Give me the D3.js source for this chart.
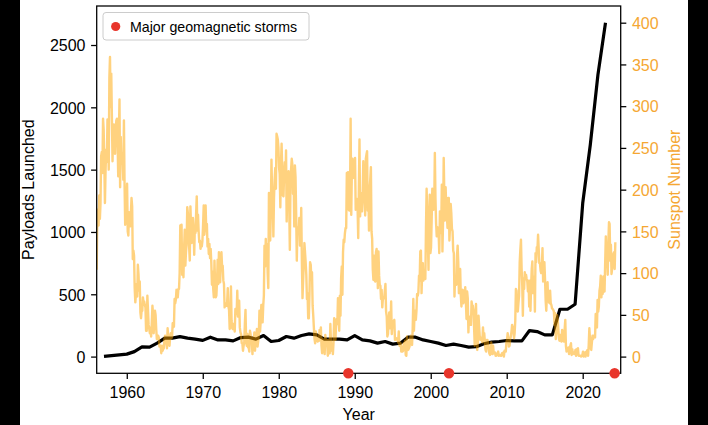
<!DOCTYPE html>
<html><head><meta charset="utf-8">
<script src="https://cdn.jsdelivr.net/npm/d3@7"></script>
<style>body{margin:0;background:#000}svg{display:block}</style>
</head><body>
<svg id="c" width="708" height="425"></svg>
<script>
// ---------- DATA ----------
const payloadStartYear = 1957;
const payloads = [2,8,14,20,40,78,76,108,148,148,160,148,140,130,156,134,134,126,153,156,140,169,121,129,161,148,169,182,174,140,140,140,134,169,134,126,108,121,100,108,156,156,134,121,108,89,100,89,76,80,103,116,121,129,126,126,209,201,174,174,380,380,420,1230,1700,2259,2679];

const sunspotStartYear = 1956; // monthly values from January 1956
const sunspots = [
104,176,168,157,193,165,183,240,245,220,285,272,
234,184,223,248,233,284,265,224,334,359,299,339,
287,234,270,278,248,243,271,283,285,257,216,266,
308,203,263,231,244,239,212,283,206,158,176,177,
207,150,145,173,169,156,172,190,180,117,127,121,
82,65,75,87,72,110,99,79,90,53,46,56,
55,71,65,66,62,59,31,31,73,56,38,33,
28,35,24,41,61,51,28,47,55,50,33,21,
22,25,23,12,13,13,4,13,7,9,10,21,
25,20,17,10,34,23,17,13,24,28,22,24,
40,35,36,69,64,68,80,72,71,81,81,100,
157,133,158,98,122,95,130,152,109,125,134,179,
172,158,131,115,180,156,136,155,166,153,122,155,
148,171,192,151,170,150,137,139,129,136,132,139,
158,181,146,155,181,151,159,132,141,123,135,118,
129,112,86,102,81,71,115,87,71,73,89,116,
87,125,113,89,114,125,108,109,91,87,59,64,
61,61,65,82,60,56,33,36,84,43,34,33,
39,37,30,57,56,51,79,48,57,67,35,29,
27,16,16,7,13,16,40,56,20,13,27,11,
11,6,31,27,18,17,3,23,19,29,7,22,
23,33,12,18,26,55,30,43,62,62,41,61,
73,133,108,141,117,135,100,82,196,177,139,174,
236,195,195,144,190,212,226,201,267,264,260,250,
226,219,179,232,255,223,193,192,219,233,209,247,
162,200,192,222,181,128,204,225,237,230,195,213,
156,229,215,171,115,155,149,151,166,133,137,178,
115,70,91,111,136,125,113,98,69,76,46,46,
75,113,110,92,101,61,49,34,21,16,30,25,
19,18,20,19,32,28,35,13,4,21,19,20,
3,26,17,20,15,1,20,8,4,39,17,7,
12,3,17,46,38,20,38,45,39,70,46,31,
73,49,94,108,74,125,140,137,148,154,154,220,
216,221,176,175,186,285,170,226,237,214,232,222,
238,176,189,189,178,142,201,260,168,196,177,174,
191,234,198,195,169,237,242,246,175,201,151,201,
212,227,150,141,104,92,121,91,90,125,129,116,
82,126,97,86,85,69,80,59,70,71,70,79,
87,54,48,24,27,42,53,34,39,66,27,39,
35,43,44,20,21,22,21,20,17,30,13,14,
16,6,12,6,7,16,11,19,2,1,24,18,
8,10,12,21,25,17,14,33,69,31,52,55,
44,55,75,73,77,97,91,126,127,76,101,112,
91,97,100,93,155,201,166,137,104,170,194,124,
131,164,201,182,176,181,244,189,159,144,155,151,
147,124,174,165,148,206,126,163,238,193,163,203,
179,169,154,190,190,139,156,183,172,153,150,127,
124,72,95,94,86,121,133,113,76,102,105,73,
60,74,80,64,67,70,83,66,45,78,70,29,
48,45,38,38,66,61,61,56,34,13,28,63,
25,8,17,49,36,23,20,21,23,17,35,22,
28,18,8,6,20,20,17,10,4,2,3,17,
5,3,13,4,5,5,1,1,2,4,6,1,
2,2,1,1,4,4,5,0,7,7,6,17,
20,28,23,12,13,21,24,30,38,35,33,22,
28,43,81,79,60,54,64,73,113,128,140,106,
86,49,94,81,101,95,98,93,90,78,91,60,
91,55,84,105,114,76,83,96,54,124,113,131,
128,146,129,112,112,103,100,107,130,90,104,113,
93,67,55,75,89,66,66,64,79,64,62,58,
57,56,54,38,52,21,32,50,45,33,21,19,
26,26,18,32,19,19,18,33,44,13,6,8,
7,11,3,9,13,16,2,9,3,5,5,3,
8,1,9,9,10,1,1,1,1,0,1,2,
6,0,2,5,0,6,6,8,1,14,34,22,
10,8,17,25,21,25,23,23,51,37,35,68,
54,60,79,84,97,71,91,75,96,96,78,113,
144,111,123,98,137,161,159,115,134,99,105,114,
123,125,105,137
];

const stormYears = [1989.15, 2002.4, 2024.2];

const xTicks = [1960,1970,1980,1990,2000,2010,2020];
const leftTicks = [0,500,1000,1500,2000,2500];
const rightTicks = [0,50,100,150,200,250,300,350,400];

// ---------- LAYOUT ----------
const W = 708, H = 425;
const L = 96.7, R = 620.7, T = 6, B = 373.3;
const FONT = "'Liberation Sans', Arial, Helvetica, sans-serif";
const ORANGE = "#FFA500";
const ORANGE_TEXT = "#F5A733";
const RED = "#E8352B";

const svg = d3.select("#c");
svg.append("rect").attr("width", W).attr("height", H).attr("fill", "#000");
svg.append("rect").attr("x", 20).attr("width", 668).attr("height", H).attr("fill", "#fff");

const x = d3.scaleLinear().domain([1956.042, 2025]).range([L, R]);
const yL = d3.scaleLinear().domain([-134, 2813]).range([B, T]);
const yR = d3.scaleLinear().domain([-20, 420]).range([B, T]);

svg.append("clipPath").attr("id", "clip")
  .append("rect").attr("x", L).attr("y", T).attr("width", R - L).attr("height", B - T);

// payload line
const payData = payloads.map((v, i) => ({ year: payloadStartYear + i, v }));
svg.append("path")
  .datum(payData)
  .attr("clip-path", "url(#clip)")
  .attr("fill", "none")
  .attr("stroke", "#000")
  .attr("stroke-width", 3.2)
  .attr("stroke-linejoin", "round")
  .attr("stroke-linecap", "butt")
  .attr("d", d3.line().x(d => x(d.year)).y(d => yL(d.v)));

// sunspot line
const sunData = sunspots.map((v, i) => ({ t: sunspotStartYear + (i + 0.5) / 12, v }));
svg.append("path")
  .datum(sunData)
  .attr("clip-path", "url(#clip)")
  .attr("fill", "none")
  .attr("stroke", ORANGE)
  .attr("stroke-opacity", 0.5)
  .attr("stroke-width", 2.4)
  .attr("stroke-linejoin", "round")
  .attr("d", d3.line().x(d => x(d.t)).y(d => yR(d.v)));

// axes
function styleAxis(g, color) {
  g.select(".domain").remove();
  g.selectAll(".tick line").attr("stroke", "#000").attr("stroke-width", 1.28);
  g.selectAll(".tick text").attr("fill", color).style("font-family", FONT).style("font-size", "16px");
}

const gx = svg.append("g").attr("transform", `translate(0,${B})`)
  .call(d3.axisBottom(x).tickValues(xTicks).tickFormat(d3.format("d")).tickSize(5.6).tickSizeOuter(0).tickPadding(8));
styleAxis(gx, "#000");

const gl = svg.append("g").attr("transform", `translate(${L},0)`)
  .call(d3.axisLeft(yL).tickValues(leftTicks).tickFormat(d3.format("d")).tickSize(5.6).tickSizeOuter(0).tickPadding(5.6));
styleAxis(gl, "#000");
gl.selectAll(".tick text").attr("dy", "0.36em");

const gr = svg.append("g").attr("transform", `translate(${R},0)`)
  .call(d3.axisRight(yR).tickValues(rightTicks).tickFormat(d3.format("d")).tickSize(5.6).tickSizeOuter(0).tickPadding(5.6));
styleAxis(gr, ORANGE_TEXT);
gr.selectAll(".tick text").attr("dy", "0.36em");

// spines
svg.append("rect").attr("x", L).attr("y", T).attr("width", R - L).attr("height", B - T)
  .attr("fill", "none").attr("stroke", "#000").attr("stroke-width", 1.28);

// storms
svg.selectAll("circle.storm").data(stormYears).enter().append("circle")
  .attr("class", "storm")
  .attr("cx", d => x(d)).attr("cy", yR(-20))
  .attr("r", 5.2).attr("fill", RED);

// axis labels
svg.append("text").attr("x", (L + R) / 2).attr("y", 419.5).attr("text-anchor", "middle")
  .style("font-family", FONT).style("font-size", "16px").attr("fill", "#000").text("Year");
svg.append("text").attr("transform", `translate(33.5,${(T + B) / 2}) rotate(-90)`).attr("text-anchor", "middle")
  .style("font-family", FONT).style("font-size", "16px").attr("fill", "#000").text("Payloads Launched");
svg.append("text").attr("transform", `translate(680,${(T + B) / 2}) rotate(-90)`).attr("text-anchor", "middle")
  .style("font-family", FONT).style("font-size", "16px").attr("fill", ORANGE_TEXT).text("Sunspot Number");

// legend
const lg = svg.append("g");
lg.append("rect").attr("x", 103).attr("y", 12.5).attr("width", 206).attr("height", 27.5).attr("rx", 3)
  .attr("fill", "#fff").attr("fill-opacity", 0.8).attr("stroke", "#cccccc").attr("stroke-width", 1);
lg.append("circle").attr("cx", 115.7).attr("cy", 26.5).attr("r", 4.6).attr("fill", RED);
lg.append("text").attr("x", 130).attr("y", 32.3)
  .style("font-family", FONT).style("font-size", "14.2px").attr("fill", "#000").text("Major geomagnetic storms");
</script>
</body></html>
